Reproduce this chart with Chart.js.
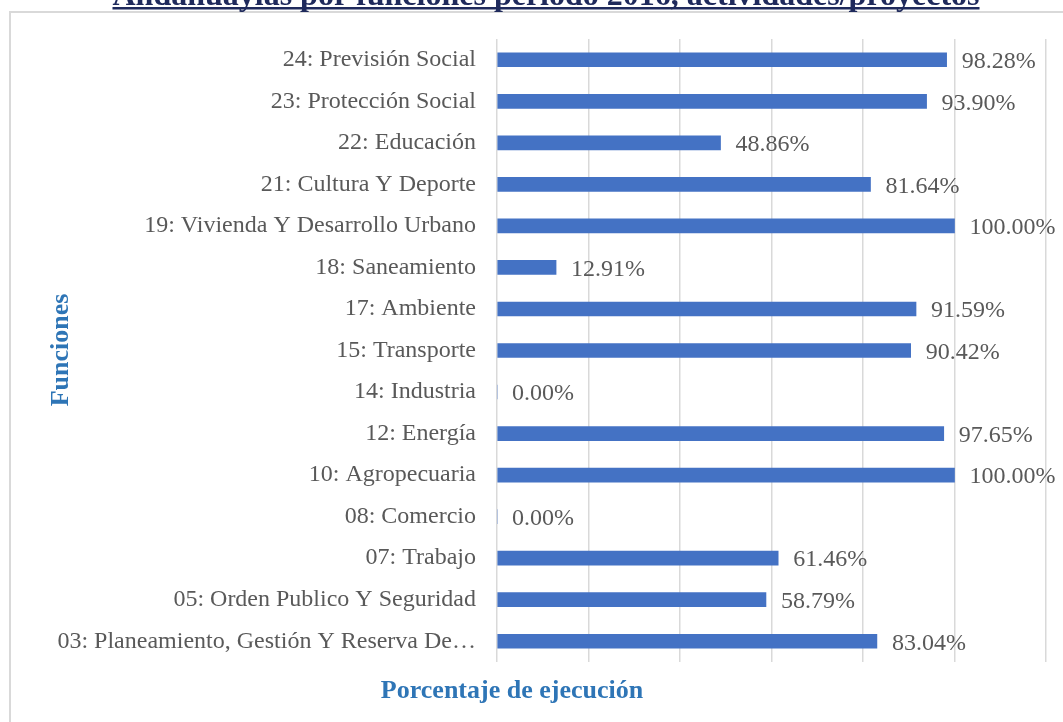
<!DOCTYPE html>
<html>
<head>
<meta charset="utf-8">
<script src="https://cdn.jsdelivr.net/npm/chart.js@4/dist/chart.umd.min.js"></script>
<style>
  html, body { margin: 0; padding: 0; background: #fff; }
  #wrap { width: 1063px; height: 722px; }
</style>
</head>
<body>
<div id="wrap"><canvas id="ejecucionChart" width="1063" height="722"></canvas></div>
<script>
// Chart data, top to bottom as in the picture
const funciones = [
  '24: Previsión Social',
  '23: Protección Social',
  '22: Educación',
  '21: Cultura Y Deporte',
  '19: Vivienda Y Desarrollo Urbano',
  '18: Saneamiento',
  '17: Ambiente',
  '15: Transporte',
  '14: Industria',
  '12: Energía',
  '10: Agropecuaria',
  '08: Comercio',
  '07: Trabajo',
  '05: Orden Publico Y Seguridad',
  '03: Planeamiento, Gestión Y Reserva De…'
];
const ejecucion = [98.28, 93.90, 48.86, 81.64, 100.00, 12.91, 91.59, 90.42, 0.00, 97.65, 100.00, 0.00, 61.46, 58.79, 83.04];
const xTicks = [0, 20, 40, 60, 80, 100, 120];

const chartTitle = 'Andahuaylas por funciones periodo 2016, actividades/proyectos';
const yTitle = 'Funciones';
const xTitle = 'Porcentaje de ejecución';

const serif = '"Liberation Serif", "Times New Roman", serif';

// frame, title and axis titles drawn like the Excel chart
const decorPlugin = {
  id: 'decor',
  beforeDraw(chart) {
    const ctx = chart.ctx;
    ctx.save();
    ctx.strokeStyle = '#d9d9d9';
    ctx.lineWidth = 2;
    ctx.strokeRect(10, 12, 1100, 800);
    ctx.restore();
  },
  afterDraw(chart) {
    const ctx = chart.ctx;
    ctx.save();
    // cut-off title with underline
    ctx.font = 'bold 32px ' + serif;
    ctx.fillStyle = '#1f2a5c';
    ctx.textAlign = 'center';
    ctx.textBaseline = 'alphabetic';
    const cx = 546;
    ctx.fillText(chartTitle, cx, 5);
    const w = ctx.measureText(chartTitle).width;
    ctx.fillRect(cx - w / 2, 7, w, 2.5);

    // axis titles
    ctx.fillStyle = '#2e75b6';
    ctx.font = 'bold 26px ' + serif;
    ctx.textBaseline = 'middle';
    ctx.fillText(xTitle, 512, 691);
    ctx.translate(61, 350);
    ctx.rotate(-Math.PI / 2);
    ctx.fillText(yTitle, 0, 0);
    ctx.restore();
  }
};

// value labels at the end of each bar
const barLabels = {
  id: 'barLabels',
  afterDatasetsDraw(chart) {
    const ctx = chart.ctx;
    const meta = chart.getDatasetMeta(0);
    ctx.save();
    ctx.font = '24px ' + serif;
    ctx.fillStyle = '#595959';
    ctx.textAlign = 'left';
    ctx.textBaseline = 'middle';
    meta.data.forEach((bar, i) => {
      ctx.fillText(ejecucion[i].toFixed(2) + '%', bar.x + 15, bar.y + 2);
    });
    ctx.restore();
  }
};

const ctx = document.getElementById('ejecucionChart').getContext('2d');
new Chart(ctx, {
  type: 'bar',
  data: {
    labels: funciones,
    datasets: [{
      label: 'Porcentaje de ejecución',
      data: ejecucion,
      backgroundColor: '#4472c4',
      barThickness: 14,
    }]
  },
  options: {
    indexAxis: 'y',
    responsive: false,
    animation: false,
    layout: { padding: { top: 39, right: 17, bottom: 0, left: 0 } },
    plugins: {
      legend: { display: false },
      tooltip: { enabled: false },
      title: { display: false }
    },
    scales: {
      x: {
        min: xTicks[0],
        max: xTicks[xTicks.length - 1],
        afterBuildTicks: (scale) => { scale.ticks = xTicks.map(v => ({ value: v })); },
        ticks: { display: false },
        grid: { color: '#d9d9d9', lineWidth: 1.5, drawTicks: false },
        border: { display: false },
        afterFit: (scale) => { scale.height = 60; }
      },
      y: {
        grid: { display: false, drawTicks: false },
        border: { display: false },
        ticks: {
          color: '#595959',
          font: { family: serif, size: 24 },
          padding: 21
        },
        afterFit: (scale) => { scale.width = 497; }
      }
    }
  },
  plugins: [decorPlugin, barLabels]
});
</script>
</body>
</html>
